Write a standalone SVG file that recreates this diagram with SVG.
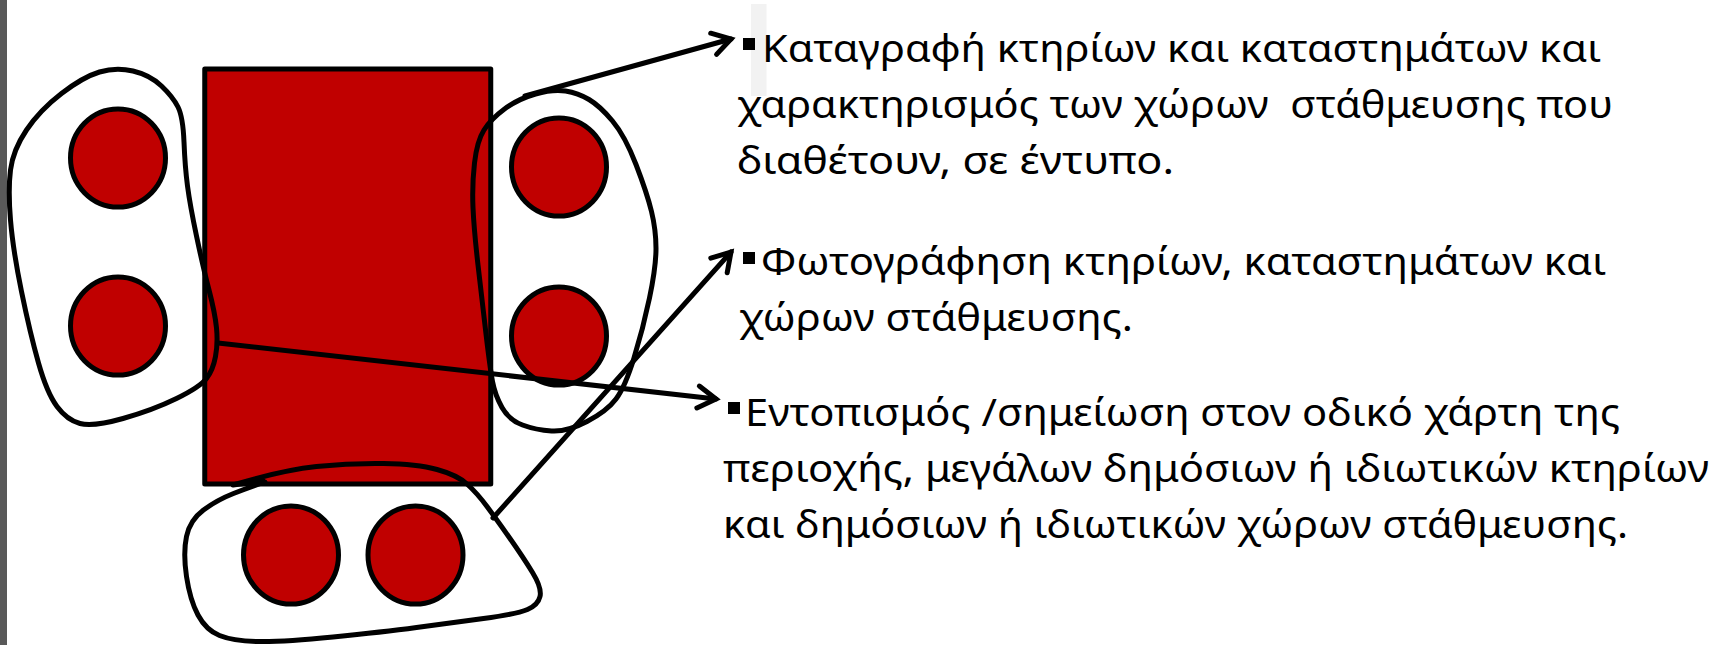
<svg xmlns="http://www.w3.org/2000/svg" width="1727" height="645" viewBox="0 0 1727 645">
<style>
.blob{fill:none;stroke:#000;stroke-width:5;stroke-linecap:round;stroke-linejoin:round}
.wheel{fill:#C00000;stroke:#000;stroke-width:5}
.conn{fill:none;stroke:#000;stroke-width:5;stroke-linecap:round}
.txt{font-family:"Noto Sans","Open Sans","DejaVu Sans",sans-serif;font-size:38px;fill:#000}
.bul{fill:#000}
</style>
<defs>
<marker id="arr" viewBox="-25 -15 30 30" markerWidth="30" markerHeight="30" refX="0" refY="0" orient="auto" markerUnits="userSpaceOnUse" overflow="visible">
<path d="M-18,-11 L0,0 L-18,11" fill="none" stroke="#000" stroke-width="5" stroke-linecap="round" stroke-linejoin="miter"/>
</marker>
</defs>
<rect x="0" y="0" width="1727" height="645" fill="#fff"/>
<rect id="edge-bar" x="0" y="0" width="7" height="645" fill="#595959"/>
<rect id="light-bar" x="751" y="4" width="15.5" height="92" fill="#f2f2f2"/>

<g id="body">
<rect x="204.75" y="69" width="286" height="415" fill="#C00000" stroke="#000" stroke-width="5" stroke-linejoin="round"/>
</g>

<g id="group-left">
<path class="blob" d="M133,71 Q150,75 161.5,86 Q173,97 178,107 Q183,117 184,142 Q185,167 187.5,186 Q190,205 196.5,236 Q203,267 209,290 Q215,313 216.5,328 Q218,343 215.5,356.5 Q213,370 206.5,378.5 Q200,387 176.5,398.5 Q153,410 123,418.5 Q93,427 80,423.5 Q67,420 57,406.5 Q47,393 38.5,363 Q30,333 21.5,291.5 Q13,250 10.5,220 Q8,190 10.5,170 Q13,150 26.5,130 Q40,110 61.5,93.5 Q83,77 99.5,72 Q116,67 133,71 Z"/>
<ellipse class="wheel" cx="118" cy="158" rx="47.5" ry="49"/>
<ellipse class="wheel" cx="118" cy="326" rx="47.5" ry="49"/>
</g>

<g id="group-right">
<path class="blob" d="M565.5,91 Q578,93 589,99.5 Q600,106 612.5,121 Q625,136 636,164.5 Q647,193 651.5,211.5 Q656,230 656,248.5 Q656,267 649.5,298 Q643,329 634,358 Q625,387 616,399 Q607,411 587,421.5 Q567,432 551.5,431 Q536,430 522.5,425 Q509,420 502,407.5 Q495,395 492.5,381.5 Q490,368 486,334 Q482,300 478,265 Q474,230 473,207.5 Q472,185 474.5,163 Q477,141 484,130 Q491,119 504.5,109 Q518,99 535.5,94 Q553,89 565.5,91 Z"/>
<ellipse class="wheel" cx="559" cy="167" rx="47.5" ry="49"/>
<ellipse class="wheel" cx="559" cy="336" rx="47.5" ry="49"/>
</g>

<g id="group-bottom">
<path class="blob" d="M263,481 L233,485 Q283,470 316.5,466.5 Q350,463 383.5,463.5 Q417,464 437,469.5 Q457,475 467,484 Q477,493 487,506.5 Q497,520 510,538.5 Q523,557 532.5,572.5 Q542,588 540,596.5 Q538,605 527.5,609.5 Q517,614 483.5,618.5 Q450,623 416.5,627.5 Q383,632 333,637 Q283,642 258,641.5 Q233,641 219.5,635.5 Q206,630 198,615 Q190,600 186.5,576.5 Q183,553 186.5,536.5 Q190,520 203.5,510 Q217,500 233.5,493.5 Q250,487 265,482"/>
<ellipse class="wheel" cx="291" cy="555" rx="47.5" ry="49"/>
<ellipse class="wheel" cx="415.5" cy="555" rx="47.5" ry="49"/>
</g>

<g id="connectors">
<line class="conn" x1="525" y1="96" x2="731" y2="39" marker-end="url(#arr)"/>
<line class="conn" x1="493" y1="518" x2="731" y2="252" marker-end="url(#arr)"/>
<line class="conn" x1="218" y1="343" x2="716" y2="399" marker-end="url(#arr)"/>
</g>

<g id="text-1">
<rect class="bul" x="743" y="38" width="12" height="12"/>
<text class="txt" x="762" y="62" textLength="839" lengthAdjust="spacingAndGlyphs">Καταγραφή κτηρίων και καταστημάτων και</text>
<text class="txt" x="737" y="118" textLength="876" lengthAdjust="spacingAndGlyphs" xml:space="preserve" style="white-space:pre">χαρακτηρισμός των χώρων  στάθμευσης που</text>
<text class="txt" x="737" y="174" textLength="437" lengthAdjust="spacingAndGlyphs">διαθέτουν, σε έντυπο.</text>
</g>

<g id="text-2">
<rect class="bul" x="743" y="252" width="12" height="12"/>
<text class="txt" x="761" y="275" textLength="845" lengthAdjust="spacingAndGlyphs">Φωτογράφηση κτηρίων, καταστημάτων και</text>
<text class="txt" x="739" y="331" textLength="394" lengthAdjust="spacingAndGlyphs">χώρων στάθμευσης.</text>
</g>

<g id="text-3">
<rect class="bul" x="728" y="402" width="12" height="12"/>
<text class="txt" x="745" y="426" textLength="875" lengthAdjust="spacingAndGlyphs">Εντοπισμός /σημείωση στον οδικό χάρτη της</text>
<text class="txt" x="723" y="482" textLength="986" lengthAdjust="spacingAndGlyphs">περιοχής, μεγάλων δημόσιων ή ιδιωτικών κτηρίων</text>
<text class="txt" x="723" y="538" textLength="905" lengthAdjust="spacingAndGlyphs">και δημόσιων ή ιδιωτικών χώρων στάθμευσης.</text>
</g>
</svg>
